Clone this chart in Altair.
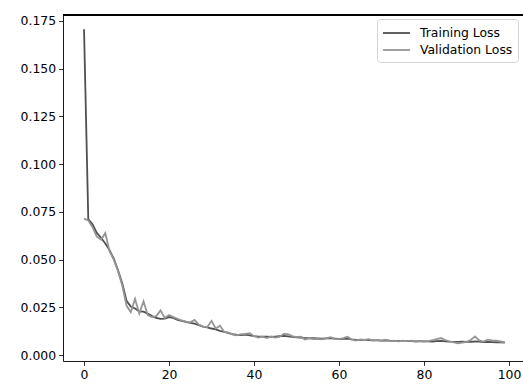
import altair as alt
import pandas as pd

epochs = list(range(100))

training_loss = [
    0.1705, 0.0712, 0.0685, 0.0640, 0.0615, 0.0585, 0.0550, 0.0505, 0.0445, 0.0375,
    0.0285, 0.0255, 0.0245, 0.0230, 0.0228, 0.0218, 0.0205, 0.0195, 0.0190, 0.0192,
    0.0200, 0.0195, 0.0185, 0.0180, 0.0175, 0.0170, 0.0166, 0.0158, 0.0150, 0.0146,
    0.0140, 0.0135, 0.0128, 0.0122, 0.0116, 0.0110, 0.0106, 0.0106, 0.0108, 0.0104,
    0.0100, 0.0098, 0.0097, 0.0097, 0.0096, 0.0098, 0.0100, 0.0101, 0.0099, 0.0096,
    0.0094, 0.0093, 0.0090, 0.0089, 0.0089, 0.0088, 0.0087, 0.0088, 0.0089, 0.0087,
    0.0085, 0.0086, 0.0087, 0.0083, 0.0081, 0.0080, 0.0080, 0.0079, 0.0078, 0.0078,
    0.0077, 0.0078, 0.0076, 0.0075, 0.0075, 0.0074, 0.0075, 0.0074, 0.0073, 0.0074,
    0.0073, 0.0073, 0.0072, 0.0074, 0.0075, 0.0073, 0.0071, 0.0070, 0.0070, 0.0071,
    0.0070, 0.0070, 0.0072, 0.0071, 0.0069, 0.0070, 0.0069, 0.0068, 0.0067, 0.0066,
]

validation_loss = [
    0.0715, 0.0705, 0.0670, 0.0620, 0.0605, 0.0640, 0.0545, 0.0500, 0.0440, 0.0365,
    0.0260, 0.0225, 0.0295, 0.0218, 0.0282, 0.0210, 0.0200, 0.0205, 0.0235, 0.0195,
    0.0210, 0.0200, 0.0190, 0.0182, 0.0176, 0.0172, 0.0185, 0.0160, 0.0150, 0.0148,
    0.0180, 0.0140, 0.0155, 0.0122, 0.0118, 0.0108, 0.0104, 0.0110, 0.0112, 0.0115,
    0.0100, 0.0092, 0.0097, 0.0090, 0.0098, 0.0092, 0.0096, 0.0112, 0.0110, 0.0100,
    0.0095, 0.0097, 0.0082, 0.0090, 0.0084, 0.0086, 0.0083, 0.0088, 0.0095, 0.0086,
    0.0084, 0.0090, 0.0097, 0.0082, 0.0077, 0.0083, 0.0080, 0.0084, 0.0077, 0.0080,
    0.0076, 0.0082, 0.0074, 0.0077, 0.0073, 0.0076, 0.0074, 0.0076, 0.0072, 0.0075,
    0.0072, 0.0074, 0.0079, 0.0085, 0.0090, 0.0080, 0.0072, 0.0068, 0.0063, 0.0066,
    0.0070, 0.0080, 0.0098, 0.0078, 0.0072, 0.0082, 0.0078, 0.0076, 0.0072, 0.0068,
]

series_names = ["Training Loss", "Validation Loss"]
series_colors = ["#505050", "#959595"]
x_ticks = [0, 20, 40, 60, 80, 100]
y_ticks = [0.0, 0.025, 0.05, 0.075, 0.1, 0.125, 0.15, 0.175]

df = pd.DataFrame(
    {
        "epoch": epochs + epochs,
        "loss": training_loss + validation_loss,
        "series": [series_names[0]] * len(epochs) + [series_names[1]] * len(epochs),
    }
)

W, H = 460, 346
FONT = "DejaVu Sans"
FS = 12.4

lines = alt.Chart(df).mark_line(strokeWidth=1.8).encode(
    x=alt.X(
        "epoch:Q",
        scale=alt.Scale(domain=[-4.95, 103.3], nice=False, zero=False),
        axis=alt.Axis(values=x_ticks, format="d", title=None),
    ),
    y=alt.Y(
        "loss:Q",
        scale=alt.Scale(domain=[-0.003, 0.178], nice=False, zero=False),
        axis=alt.Axis(values=y_ticks, format=".3f", title=None),
    ),
    color=alt.Color(
        "series:N",
        scale=alt.Scale(domain=series_names, range=series_colors),
        legend=alt.Legend(
            orient="none",
            legendX=314,
            legendY=4,
            title=None,
            symbolType="M-1,0H2.375",
            symbolSize=256,
            symbolStrokeWidth=1.8,
            labelFontSize=FS,
            labelFont=FONT,
            labelColor="#000000",
            labelOffset=20,
            strokeColor="#d4d4d4",
            fillColor="#ffffff",
            padding=5,
            cornerRadius=3,
            rowPadding=1,
        ),
    ),
)

top_spine = alt.Chart(df).mark_rule(color="#000000", strokeWidth=0.9).encode(
    x=alt.value(0), x2=alt.value(W), y=alt.value(0)
)

chart = (
    alt.layer(lines, top_spine)
    .properties(
        width=W,
        height=H,
        autosize=alt.AutoSizeParams(type="none"),
        padding={"left": 63, "top": 15, "right": 0, "bottom": 24},
    )
    .configure_view(stroke=None)
    .configure_axis(
        grid=False,
        domainColor="#000000",
        domainWidth=0.9,
        tickColor="#000000",
        tickWidth=0.8,
        tickSize=4.4,
        labelColor="#000000",
        labelFont=FONT,
        labelFontSize=FS,
        labelPadding=3,
    )
)

chart.save("out.html", embed_options={"renderer": "svg", "actions": False})
